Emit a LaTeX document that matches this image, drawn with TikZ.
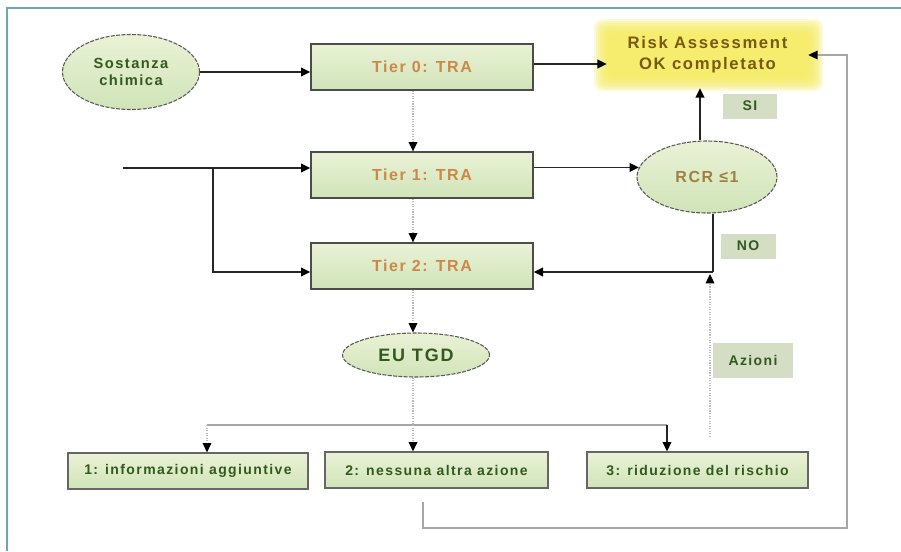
\documentclass[tikz,border=0pt]{standalone}
\usepackage{fontspec}
\setmainfont{Liberation Sans}[LetterSpace=10]
\usetikzlibrary{arrows.meta,shapes.geometric}
\definecolor{frameteal}{RGB}{106,168,184}
\definecolor{boxgreenA}{RGB}{234,242,214}
\definecolor{boxgreenB}{RGB}{208,228,184}
\definecolor{tiertext}{RGB}{204,136,72}
\definecolor{darkgreen}{RGB}{50,90,30}
\definecolor{labelfill}{RGB}{212,222,196}
\definecolor{riskyellow}{RGB}{246,236,96}
\definecolor{risktext}{RGB}{122,90,16}
\definecolor{rcrtext}{RGB}{160,128,64}
\tikzset{
  tierbox/.style={draw=black!70, line width=1pt, top color=boxgreenA, bottom color=boxgreenB,
    minimum width=166.5pt, minimum height=34.5pt, inner sep=0pt, text=tiertext,
    font=\fontsize{12}{14}\selectfont\bfseries},
  actbox/.style={draw=black!60, line width=0.9pt, top color=boxgreenA, bottom color=boxgreenB,
    minimum height=27pt, inner sep=0pt, text=darkgreen,
    font=\fontsize{10.5}{12}\selectfont\bfseries},
  ovalnode/.style={ellipse, draw=black!65, line width=0.8pt, dash pattern=on 3pt off 1pt,
    top color=boxgreenA, bottom color=boxgreenB, inner sep=0pt, text=darkgreen,
    font=\fontsize{11}{13}\selectfont\bfseries, align=center},
  tagbox/.style={fill=labelfill, inner sep=0pt, text=darkgreen,
    font=\fontsize{10.5}{12}\selectfont\bfseries},
  tip/.style={-{Triangle[length=7pt,width=6.5pt,color=black]}},
  arr/.style={line width=1.4pt, draw=black!85, tip},
  plainline/.style={line width=1.4pt, draw=black!85},
  dotarr/.style={line width=0.9pt, draw=gray!55, densely dotted, tip},
  dotline/.style={line width=0.9pt, draw=gray!55, densely dotted},
  greyline/.style={line width=1pt, draw=gray!70},
  greyarr/.style={line width=1pt, draw=gray!70, tip},
}
\begin{document}
\begin{tikzpicture}[x=0.75pt,y=-0.75pt]
\useasboundingbox (0,0) rectangle (901,551);
\fill[white] (0,0) rectangle (901,551);
% frame
\draw[frameteal, line width=2pt] (7,551) -- (7,8) -- (901,8);

% blurred yellow background of the risk box
\foreach \i in {0,...,7}{
  \fill[riskyellow, opacity=0.25, rounded corners=6pt] (594+2*\i,19+2*\i) rectangle (823-2*\i,91-2*\i);
}
\node[minimum width=150.75pt, minimum height=49.5pt, inner sep=0pt, text=risktext, align=center,
  font=\fontsize{12.5}{15.5}\selectfont\bfseries] (risk) at (707.5,55) {Risk Assessment\\OK completato};

% nodes
\node[ovalnode, minimum width=102.75pt, minimum height=56.25pt] (sost) at (131,72) {Sostanza\\chimica};
\node[tierbox] (t0) at (422,67) {Tier 0: TRA};
\node[tierbox] (t1) at (422,175) {Tier 1: TRA};
\node[tierbox] (t2) at (422,266) {Tier 2: TRA};
\node[ovalnode, minimum width=105pt, minimum height=54pt, text=rcrtext, font=\fontsize{12}{14}\selectfont\bfseries] (rcr) at (707,177) {RCR ≤1};
\node[ovalnode, minimum width=110.25pt, minimum height=33pt, font=\fontsize{13.5}{15}\selectfont\bfseries] (eu) at (416,355) {EU TGD};
\node[actbox, minimum width=180pt] (b1) at (188,471) {1: informazioni aggiuntive};
\node[actbox, minimum width=167.25pt] (b2) at (436.5,470) {2: nessuna altra azione};
\node[actbox, minimum width=165.75pt] (b3) at (697.5,470) {3: riduzione del rischio};
\node[tagbox, minimum width=40.5pt, minimum height=18.75pt] (si) at (750,106) {SI};
\node[tagbox, minimum width=41.25pt, minimum height=18.75pt] (no) at (748,246) {NO};
\node[tagbox, minimum width=60pt, minimum height=26.25pt] (az) at (753,360) {Azioni};

% helper coordinates
\coordinate (yA) at (0,64);
\coordinate (in) at (123,168);
\coordinate (br) at (213,168);
\coordinate (yB) at (0,272);
\coordinate (xS) at (700,0);
\coordinate (xN) at (713,0);
\coordinate (up) at (710,437);
\coordinate (hub) at (413,425);
\coordinate (hl) at (207,425);
\coordinate (hr) at (667,425);
\coordinate (x413) at (413,0);
\coordinate (fb1) at (423,502);
\coordinate (fb2) at (847,528);

% connectors
\draw[arr] (sost.east |- sost) -- (t0.west |- sost);
\draw[arr] (t0.east |- yA) -- (risk.west |- yA);
\draw[dotarr] (t0.south -| x413) -- (t1.north -| x413);
\draw[arr] (in) -- (t1.west |- in);
\draw[arr] (br) |- (t2.west |- yB);
\draw[arr] (t1.east |- rcr.172) -- (rcr.172);
\draw[arr] (rcr.north -| xS) -- (risk.south -| xS);
\draw[plainline] (rcr.south -| xN) -- (xN |- yB);
\draw[arr] (xN |- yB) -- (t2.east |- yB);
\draw[dotarr, draw=gray!50] (up) -- ([yshift=-1.5pt]up |- yB);
\draw[dotarr] (t1.south -| x413) -- (t2.north -| x413);
\draw[dotarr] (t2.south -| x413) -- (eu.north -| x413);
\draw[dotline] (eu.south -| x413) -- (hub);
\draw[greyline] (hl) -- (hr);
\draw[dotarr] (hl) -- (b1.north -| hl);
\draw[dotarr] (hub) -- (b2.north -| hub);
\draw[arr, line width=1.1pt] (hr) -- (b3.north -| hr);
\draw[greyarr] (fb1) |- (fb2) |- (risk.east);
\end{tikzpicture}
\end{document}
